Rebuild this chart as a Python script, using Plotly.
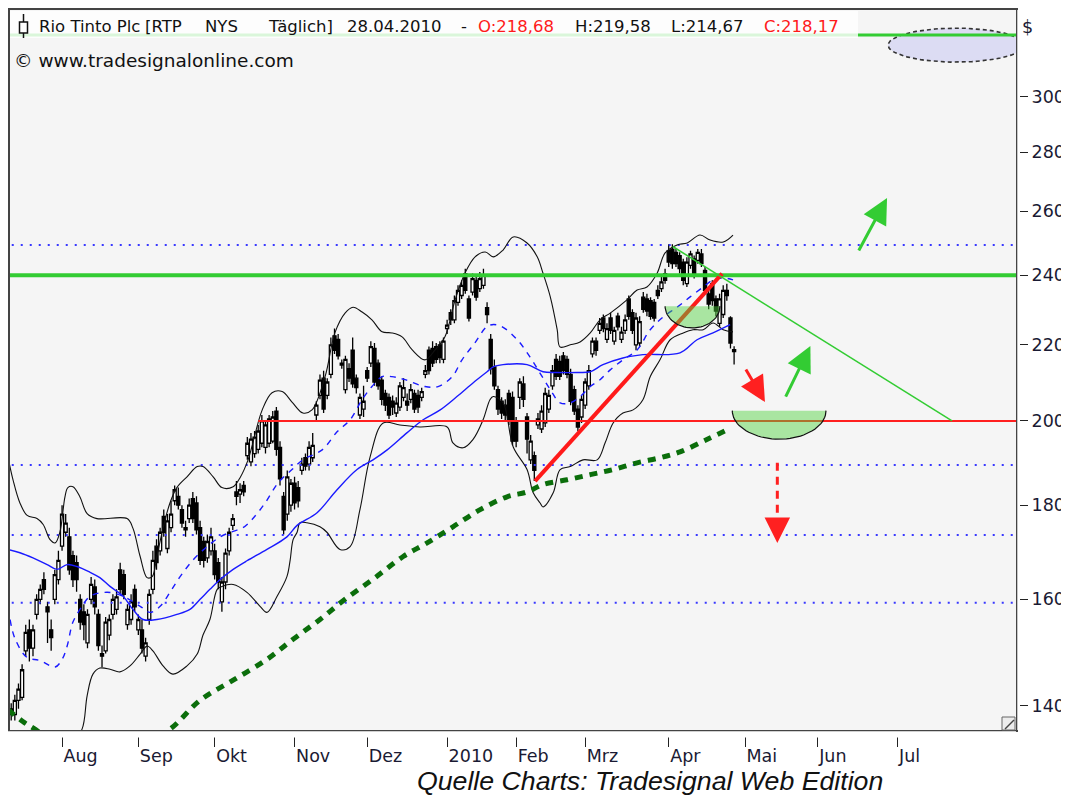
import math
import plotly.graph_objects as go

# ---------------- data (x = trading-day index, 0 = 14.07.2009 ... 199 = 28.04.2010) ----------------
opens = [139.5, 138.5, 141, 141.5, 150, 154, 150.5, 157, 160, 164,
         158.5, 154, 160, 164, 171, 174, 173, 169, 167.5, 160,
         157.5, 151.5, 160, 162.5, 157, 149.5, 150, 153, 157, 158,
         166, 165, 155, 156, 162, 154, 154, 149, 156, 162,
         171, 170, 177.5, 170.5, 175, 181, 182, 179, 175, 177,
         181.5, 180.5, 175, 172, 168.5, 170, 170, 167.5, 159.5, 163.5,
         170, 175.5, 183, 182.5, 184.5, 191.5, 190, 192, 193, 194.5,
         193.5, 194.5, 195, 202.5, 193.5, 182, 178, 180, 185, 184,
         188, 191, 189.5, 191, 201.5, 206.5, 211, 206.5, 212, 222.5,
         221.5, 215, 208, 213.5, 218.5, 211, 201.5, 203, 213, 215,
         219, 215, 210.5, 207, 206, 205, 202, 203.5, 206, 205,
         205.5, 207, 206.5, 206, 212, 218.5, 219, 219.5, 220, 216,
         224.5, 229, 227, 232, 234, 240.5, 233, 235, 238.5, 236,
         237, 230.5, 221.5, 214, 208, 205, 204, 207, 206, 200,
         206, 209.5, 201, 190.5, 191.5, 199, 198, 199.5, 203, 209,
         216, 215.5, 217, 216, 212, 208, 203, 201, 204, 209,
         217.5, 221, 224, 227.5, 221.5, 227.5, 221, 228, 221.5, 224,
         233, 229, 220, 220.5, 233.5, 233, 232.5, 232, 235.5, 236,
         240.5, 247.5, 248, 247, 246, 244, 237.5, 243, 245, 244.5,
         246.5, 241.5, 234.5, 237.5, 233, 226, 228.5, 235.5, 227.5, 218.68]
highs = [140.5, 142, 144, 147.5, 155, 156, 155, 161, 163, 165.5,
         159.5, 156, 166, 170, 180, 178, 175, 170, 169, 161,
         159, 158, 164.5, 164, 158, 151, 156.5, 157, 161, 162,
         167.5, 166, 159, 161, 163, 157, 156, 152.5, 162, 170,
         172.5, 175, 179, 178, 181, 184.5, 184, 180, 176.5, 181.5,
         183, 182, 176.5, 173, 173.5, 175, 171.5, 168.5, 164.5, 170.5,
         175, 178, 185.5, 185, 185.5, 196, 197, 197.5, 199, 201.5,
         200, 201.5, 202.5, 203.5, 195, 183, 188, 186, 186.5, 185.5,
         191, 192, 195, 197, 205, 212, 213, 211, 222, 224.5,
         223, 216, 217, 215, 222, 212, 207, 209, 214, 221,
         220.5, 216, 211.5, 208, 207, 206.5, 206, 210, 211, 207,
         209.5, 208, 208, 208.5, 214.5, 219.5, 221, 220.5, 221, 222,
         227, 230, 234, 237, 238.5, 242, 234, 240.5, 240, 241,
         242, 232, 223, 216, 209, 206, 205.5, 208, 207.5, 201,
         211, 211.5, 202, 196.5, 192.5, 202, 204, 208.5, 208, 214.5,
         217.5, 217, 218, 217, 213.5, 209, 204, 206.5, 211, 214.5,
         222, 222, 227.5, 228.5, 226, 229, 225, 229, 225, 228.5,
         234, 230, 229, 228, 235, 234.5, 233.5, 233, 237, 239.5,
         242, 249.5, 249.5, 248, 247, 245, 245.5, 247.5, 246, 248,
         248, 242.5, 236, 238.5, 234, 234.5, 237, 237.5, 228, 219.58]
lows = [137.5, 137.5, 139.5, 141, 149, 148, 149, 156, 159, 161,
        151.5, 150, 159, 163, 170, 173, 165, 162.5, 161.5, 154,
        152, 150.5, 159, 157, 150, 147, 149.5, 152, 156, 157,
        161, 160, 154, 155, 157.5, 153, 149.5, 148, 155, 161,
        166, 169, 173, 169.5, 174, 180, 179, 175, 173, 176,
        176, 173.5, 167, 166.5, 167.5, 169, 164, 162, 157.5, 162,
        169, 174.5, 180, 180.5, 182, 190.5, 189, 191, 192, 193.5,
        192, 193.5, 194.5, 191.5, 184.5, 173.5, 176.5, 178.5, 179, 179.5,
        187, 188, 188, 190, 200, 205.5, 202, 205.5, 211, 217.5,
        216, 213.5, 207, 210, 208.5, 207, 200.5, 201, 210, 214,
        209, 208, 204, 202.5, 200.5, 201.5, 201, 202.5, 205, 202.5,
        204.5, 202, 202, 205, 211, 212, 214, 215, 215, 215,
        223, 225.5, 226, 231, 233, 234.5, 226.5, 234, 232.5, 235,
        236, 226, 212, 208, 201.5, 200.5, 200, 199, 194, 193.5,
        203, 203.5, 192, 189.5, 185.5, 198, 197, 198.5, 202, 208,
        210.5, 210.5, 212, 211, 204, 201.5, 197.5, 199.5, 203, 208,
        216.5, 217, 223, 223.5, 220.5, 223, 220, 224, 220.5, 223,
        227, 223, 218.5, 219.5, 229, 228, 227, 226.5, 233, 235,
        237.5, 242.5, 242, 242.5, 240.5, 237, 236.5, 242, 239, 243.5,
        242.5, 234.5, 230, 231, 228, 225, 227.5, 232.5, 219, 214.67]
closes = [138.5, 141, 143, 146.5, 153.5, 150.5, 154, 160, 162, 162,
          157.5, 152.5, 165, 168, 178, 176, 166, 164, 164, 155.5,
          155, 157, 163, 158.5, 151, 149, 155.5, 156, 160, 160.5,
          162, 161, 158, 159.5, 158.5, 156, 150.5, 151.5, 161, 168,
          167.5, 174, 174, 176.5, 178, 183.5, 180, 176, 174.5, 180,
          177, 174.5, 168, 168, 172, 173, 165, 163.5, 163.5, 169.5,
          174, 177, 182, 183.5, 183, 194.5, 195.5, 196, 197.5, 200,
          199, 200.5, 201, 193, 186, 174.5, 186.5, 185, 180.5, 181,
          189.5, 189, 193.5, 194, 204, 210.5, 203, 210, 220, 218.5,
          217, 214.5, 216, 211, 209.5, 208.5, 206, 205, 211, 219.5,
          210, 209, 205.5, 204, 201.5, 203.5, 204.5, 209, 208.5, 204,
          208, 203, 203.5, 207.5, 213, 213, 215, 216, 216.5, 221,
          225.5, 227, 232.5, 235.5, 237, 235.5, 227.5, 239, 233.5, 239,
          240, 228.5, 213.5, 209, 203, 202, 201.5, 200, 195, 195,
          210, 205.5, 195.5, 195, 188, 200.5, 202.5, 207, 206.5, 213,
          211.5, 211.5, 213, 212, 205, 202.5, 198.5, 205.5, 210, 213,
          221, 218.5, 226, 224.5, 224.5, 224, 224, 225, 223.5, 227,
          228, 224, 227.5, 226.5, 230, 229.5, 228, 227.5, 234, 238,
          238.5, 244, 243.5, 243.5, 242, 238.5, 244, 246.5, 240, 247,
          243.5, 235.5, 231.5, 232.5, 229.5, 233, 235.5, 234, 220.5, 218.17]

bb_up_x = [-0.9, 0.5, 2.4, 4.4, 7.1, 8.8, 10.7, 12.1, 13.4, 14.8, 15.6, 17.0, 18.9, 20.9, 23.6, 31.9,
           33.5, 35.5, 37.4, 38.8, 40.1, 41.8, 43.7, 45.6, 48.4, 51.2, 52.8, 55.6, 58.0, 61.1, 63.0,
           65.2, 69.1, 71.8, 74.6, 77.3, 80.3, 82.8, 86.4, 89.1, 91.9, 94.1, 96.6, 99.3, 102.1, 104.8,
           107.6, 110.4, 113.9, 116.7, 119.4, 122.2, 124.9, 127.7, 130.5, 132.7, 135.4, 138.2, 142.0,
           144.8, 146.4, 148.4, 150.3, 151.1, 153.9, 156.6, 159.4, 162.1, 164.9, 169.5, 172.3, 175.0,
           177.8, 180.0, 183.3, 186.1, 189.6, 192.4, 196.0, 198.7]
bb_up_y = [191.2, 185.8, 180.5, 177.7, 177.0, 175.7, 172.4, 171.7, 174.0, 181.9, 184.0, 184.2, 181.9,
           178.1, 177.0, 177.0, 174.9, 168.8, 164.4, 164.6, 168.8, 174.9, 180.5, 184.0, 186.5, 188.9,
           188.9, 186.5, 184.0, 184.2, 186.3, 190.5, 202.8, 207.2, 207.5, 204.8, 202.0, 202.8, 211.4,
           223.3, 228.9, 230.6, 229.2, 227.0, 223.6, 223.3, 222.2, 218.6, 215.9, 218.6, 222.2, 232.7,
           240.6, 245.6, 247.1, 245.6, 247.7, 251.8, 249.9, 245.6, 240.6, 233.6, 224.2, 219.4, 220.0,
           220.8, 223.3, 227.0, 228.9, 232.7, 235.6, 236.5, 240.6, 246.8, 249.3, 249.9, 252.4, 250.8,
           250.2, 252.4]
bb_lo_x = [-0.9, 8.0, 16.2, 19.5, 20.9, 22.5, 24.4, 27.2, 29.9, 32.7, 35.5, 37.4, 39.0, 41.8, 44.5,
           48.4, 51.2, 52.8, 54.7, 56.7, 58.0, 61.1, 64.9, 68.5, 70.4, 73.2, 75.9, 76.8, 77.6, 78.7,
           79.5, 81.4, 85.0, 86.9, 90.5, 93.3, 96.0, 98.8, 102.4, 107.0, 112.5, 120.0, 121.6, 124.4,
           127.1, 129.9, 131.8, 132.7, 135.4, 138.2, 142.0, 143.7, 145.6, 146.4, 149.2, 151.1, 153.9,
           157.4, 161.3, 163.5, 165.7, 168.4, 171.2, 173.9, 175.9, 178.6, 181.4, 185.0, 187.7, 190.5,
           193.2, 196.0, 198.7]
bb_lo_y = [128.0, 127.5, 133.3, 136.0, 141.8, 145.7, 146.8, 146.6, 146.1, 147.2, 149.4, 150.9, 150.0,
           147.2, 145.7, 147.2, 149.4, 153.0, 156.0, 162.0, 162.6, 163.0, 161.4, 158.6, 157.4, 160.6,
           164.6, 168.1, 172.4, 174.0, 176.1, 176.1, 175.2, 174.0, 170.3, 170.9, 179.0, 191.2, 199.5,
           199.0, 198.5, 198.5, 194.6, 193.4, 195.4, 200.3, 205.4, 206.2, 204.6, 193.6, 188.2, 182.8,
           180.5, 179.6, 182.8, 188.2, 188.9, 190.5, 190.5, 194.6, 199.5, 202.0, 202.8, 205.4, 211.4,
           215.9, 221.4, 223.3, 224.2, 224.2, 226.1, 224.2, 223.6]
ma20_x = [-0.3, 1.0, 4.3, 7.9, 12.1, 14.0, 15.4, 17.0, 19.5, 21.7, 26.4, 30.8, 35.5, 38.2, 41.0, 43.7,
          46.5, 50.1, 53.9, 57.5, 61.1, 63.8, 66.3, 69.9, 73.5, 77.3, 80.3, 85.6, 89.7, 93.3, 96.6,
          99.3, 102.1, 104.8, 108.4, 113.9, 117.5, 121.4, 124.1, 127.7, 131.3, 134.6, 139.3, 142.8,
          145.6, 148.4, 151.1, 153.9, 156.6, 159.4, 162.1, 164.9, 168.4, 172.3, 175.9, 179.5, 183.3,
          186.9, 190.5, 193.2, 196.0, 198.7]
ma20_y = [156.0, 152.4, 148.8, 148.2, 147.0, 148.4, 150.9, 155.5, 158.6, 160.6, 161.4, 160.6, 158.6,
          157.4, 158.6, 161.4, 164.6, 168.1, 170.9, 173.0, 174.2, 175.0, 176.8, 180.5, 185.1, 188.2,
          190.5, 192.9, 197.3, 200.3, 205.4, 208.8, 211.4, 211.4, 210.6, 208.8, 208.8, 211.4, 215.9,
          220.6, 225.3, 225.3, 221.4, 216.7, 212.3, 208.0, 204.6, 204.6, 206.2, 208.8, 210.6, 213.2,
          215.9, 218.6, 224.2, 227.8, 230.6, 233.6, 236.5, 238.6, 239.2, 238.6]
ma50_x = [-0.9, 2.4, 6.0, 9.9, 12.6, 15.4, 18.1, 21.7, 24.4, 27.2, 30.8, 33.5, 36.3, 40.1, 45.6, 49.2,
          52.0, 54.7, 57.5, 61.1, 64.9, 70.4, 75.9, 78.7, 84.2, 89.7, 95.2, 99.6, 103.5, 109.0, 113.4,
          118.1, 122.7, 127.2, 131.0, 132.7, 135.4, 142.0, 146.4, 150.3, 155.8, 159.4, 162.9, 168.4,
          173.9, 184.1, 188.8, 193.2, 197.9]
ma50_y = [170.3, 169.6, 168.5, 167.1, 166.1, 167.1, 166.7, 165.5, 164.4, 162.6, 160.6, 158.0, 156.0,
          156.0, 157.0, 158.0, 160.0, 162.0, 164.0, 166.1, 167.9, 170.3, 173.0, 175.5, 178.3, 183.5,
          188.2, 190.5, 192.9, 197.1, 200.3, 202.8, 206.2, 209.8, 212.7, 214.0, 214.6, 214.6, 212.7,
          212.5, 212.5, 212.7, 214.6, 216.4, 217.3, 217.8, 221.4, 223.3, 225.6]
ma200_x = [-0.9, 3.2, 6.0, 13.4, 24.4, 35.5, 43.7, 52.0, 61.1, 70.4, 77.6, 85.0, 91.9, 100.2, 107.9,
           114.5, 121.6, 129.1, 136.5, 142.0, 146.4, 153.0, 159.4, 165.7, 172.3, 178.6, 184.1, 191.5,
           197.1]
ma200_y = [139.4, 137.3, 136.2, 133.5, 132.2, 133.3, 136.0, 141.0, 144.6, 148.4, 152.2, 156.0, 160.0,
           164.4, 168.8, 171.7, 175.2, 179.0, 181.9, 183.0, 184.7, 185.8, 187.0, 188.2, 189.8, 191.0,
           192.4, 195.4, 197.8]

# horizontal levels / drawn analysis
blue_levels = [249.3, 189.3, 173.4, 159.3]
green_level = 240.0
red_level = 200.0
red_level_start = 68.0
top_green_level = 324.2
red_trend_x = [144.2, 195.7]
red_trend_y = [185.5, 240.5]
green_trend_x = [182.1, 259.0]
green_trend_y = [248.8, 200.0]
# arrows: tail x, tail y, tip x, tip y, colour
arrow_tail_x = [202.0, 213.0, 233.1]
arrow_tail_y = [213.7, 205.8, 247.1]
arrow_tip_x = [207.5, 220.0, 241.1]
arrow_tip_y = [204.8, 219.7, 264.4]
arrow_colors = ['#ff2020', '#33cc33', '#33cc33']
dash_arrow_x = 210.9
dash_arrow_y = [189.8, 171.7]
# bowls: left x, right x, top price, bottom price
bowl_x0 = [180.0, 198.5]
bowl_x1 = [195.1, 224.3]
bowl_top = [230.9, 202.6]
bowl_bot = [224.7, 195.5]
# marker ellipse (top right)
ell_cx, ell_rx, ell_cy, ell_ry_px = 260.1, 18.7, 320.1, 17

month_pos = [14, 35, 56, 78, 98, 120, 139, 158, 181, 202, 222, 244]
month_labels = ['Aug', 'Sep', 'Okt', 'Nov', 'Dez', '2010', 'Feb', 'Mrz', 'Apr', 'Mai', 'Jun', 'Jul']
y_ticks = [140, 160, 180, 200, 220, 240, 260, 280, 300]

# ---------------- layout geometry (page body has an 8px margin) ----------------
W, H = 1061, 788
ML, MR, MT, MB = 2, 53, 2, 66
PW, PH = W - ML - MR, H - MT - MB      # plot area on page: x 10..1016, y 10..730
XR = [-0.33, 276.6]
YR = [2.13308, 2.52438]
DEC_PER_PX = (YR[1] - YR[0]) / PH


def pxx(x):   # page pixel -> paper
    return (x - 10) / PW


def pxy(y):
    return (730 - y) / PH


FONT = 'DejaVu Sans'
fig = go.Figure()


def line(x, y, color, width, dash=None, shape='linear'):
    fig.add_trace(go.Scatter(x=x, y=y, mode='lines', hoverinfo='skip', showlegend=False,
                             line=dict(color=color, width=width, dash=dash, shape=shape)))


LX = [XR[0] - 2, XR[1] + 2]
for lv in blue_levels:
    line(LX, [lv, lv], '#3838ff', 2, '2px,7px')

# ellipse (top right)
ts = [k * 2 * math.pi / 80 for k in range(81)]
ell_ry = ell_ry_px * DEC_PER_PX
fig.add_trace(go.Scatter(
    x=[ell_cx + ell_rx * math.cos(t) for t in ts],
    y=[10 ** (math.log10(ell_cy) + ell_ry * math.sin(t)) for t in ts],
    mode='lines', fill='toself', fillcolor='#dcdcf3',
    line=dict(color='#333333', width=1.6, dash='4px,3px'), hoverinfo='skip', showlegend=False))
line(LX, [top_green_level, top_green_level], '#33cc33', 3)

# candles
fig.add_trace(go.Candlestick(
    x=list(range(len(opens))), open=opens, high=highs, low=lows, close=closes,
    increasing=dict(line=dict(color='black', width=1.3), fillcolor='white'),
    decreasing=dict(line=dict(color='black', width=1.3), fillcolor='black'),
    whiskerwidth=0, hoverinfo='skip', showlegend=False))

# indicators
line(bb_up_x, bb_up_y, '#111111', 1.1, shape='spline')
line(bb_lo_x, bb_lo_y, '#111111', 1.1, shape='spline')
line(ma20_x, ma20_y, '#1a1aff', 1.4, '6px,6px', shape='spline')
line(ma50_x, ma50_y, '#1a1aff', 1.4, shape='spline')
line(ma200_x, ma200_y, '#0b6e0b', 5, '8px,7px', shape='spline')

# analysis drawings
line(LX, [green_level, green_level], '#33cc33', 4)
line([red_level_start, LX[1]], [red_level, red_level], '#ff2020', 2)
line(red_trend_x, red_trend_y, '#ff1a1a', 4)
line(green_trend_x, green_trend_y, '#33cc33', 1.5)

for x0, x1, tp, bt in zip(bowl_x0, bowl_x1, bowl_top, bowl_bot):
    cx, rx = (x0 + x1) / 2, (x1 - x0) / 2
    lt, lb = math.log10(tp), math.log10(bt)
    tt = [k * math.pi / 40 for k in range(41)]
    ax_ = [cx + rx * math.cos(t) for t in tt]
    ay_ = [10 ** (lt - (lt - lb) * math.sin(t)) for t in tt]
    fig.add_trace(go.Scatter(x=ax_, y=ay_, mode='lines', fill='toself',
                             fillcolor='rgba(78,209,61,0.46)', line=dict(width=0),
                             hoverinfo='skip', showlegend=False))
    line(ax_, ay_, '#111111', 1.2)

line([dash_arrow_x, dash_arrow_x], [dash_arrow_y[0], dash_arrow_y[1] * 1.02], '#ff2020', 3, '8px,6px')

annotations = []
for tx, ty, hx, hy, c in zip(arrow_tail_x, arrow_tail_y, arrow_tip_x, arrow_tip_y, arrow_colors):
    annotations.append(dict(x=hx, y=math.log10(hy), ax=tx, ay=math.log10(ty), xref='x', yref='y',
                            axref='x', ayref='y', text='', showarrow=True, arrowhead=2,
                            arrowsize=1.7, arrowwidth=3, arrowcolor=c))
annotations.append(dict(x=dash_arrow_x, y=math.log10(dash_arrow_y[1]), ax=dash_arrow_x,
                        ay=math.log10(dash_arrow_y[1] * 1.03), xref='x', yref='y', axref='x',
                        ayref='y', text='', showarrow=True, arrowhead=2, arrowsize=1.7,
                        arrowwidth=3, arrowcolor='#ff2020'))

# header texts
hdr = [('Rio Tinto Plc', 36.5, '#111111'), ('[RTP', 143, '#111111'), ('NYS', 203, '#111111'),
       ('Täglich]', 266, '#111111'), ('28.04.2010', 344.5, '#111111'), ('-', 459, '#111111'),
       ('O:218,68', 475.5, '#ff1a1a'), ('H:219,58', 572.5, '#111111'),
       ('L:214,67', 668.5, '#111111'), ('C:218,17', 761.5, '#ff1a1a')]
for txt, xp, col in hdr:
    annotations.append(dict(x=pxx(xp), y=pxy(26), xref='paper', yref='paper', text=txt,
                            showarrow=False, xanchor='left', yanchor='middle',
                            font=dict(family=FONT, size=16.5, color=col)))
annotations.append(dict(x=pxx(11.5), y=pxy(61), xref='paper', yref='paper',
                        text='© www.tradesignalonline.com', showarrow=False, xanchor='left',
                        yanchor='middle', font=dict(family=FONT, size=18.5, color='#111111')))
annotations.append(dict(x=pxx(1020), y=pxy(27), xref='paper', yref='paper', text='$',
                        showarrow=False, xanchor='left', yanchor='middle',
                        font=dict(family=FONT, size=17.5, color='#1a1a33')))
annotations.append(dict(x=pxx(649.5), y=pxy(781), xref='paper', yref='paper',
                        text='<i>Quelle Charts: Tradesignal Web Edition</i>', showarrow=False,
                        xanchor='center', yanchor='middle',
                        font=dict(family='Liberation Sans', size=26.7, color='#111111')))

shapes = [
    # gap between frame and tick marks
    dict(type='rect', xref='paper', yref='paper', x0=-0.01, x1=1.0, y0=pxy(737.5), y1=pxy(731.3),
         fillcolor='white', line=dict(width=0), layer='above'),
    dict(type='rect', xref='paper', yref='paper', x0=pxx(1017.3), x1=pxx(1020), y0=0, y1=1,
         fillcolor='white', line=dict(width=0), layer='above'),
    # header box
    dict(type='rect', xref='paper', yref='paper', x0=pxx(10), x1=pxx(858), y0=pxy(38), y1=pxy(11),
         fillcolor='rgba(255,255,255,0.82)', line=dict(width=0), layer='above'),
    # candle icon
    dict(type='line', xref='paper', yref='paper', x0=pxx(23.5), x1=pxx(23.5), y0=pxy(38), y1=pxy(14),
         line=dict(color='#111111', width=1.5), layer='above'),
    dict(type='rect', xref='paper', yref='paper', x0=pxx(19.5), x1=pxx(27.5), y0=pxy(33), y1=pxy(22),
         fillcolor='white', line=dict(color='#111111', width=1.5), layer='above'),
    # resize glyph
    dict(type='rect', xref='paper', yref='paper', x0=pxx(1002), x1=pxx(1015), y0=pxy(730), y1=pxy(717),
         fillcolor='#ececec', line=dict(color='#666666', width=1), layer='above'),
    dict(type='line', xref='paper', yref='paper', x0=pxx(1005), x1=pxx(1014), y0=pxy(729), y1=pxy(720),
         line=dict(color='#444444', width=1.5), layer='above'),
]

tickfont = dict(family=FONT, size=17.5, color='#1a1a33')
fig.update_layout(
    width=W, height=H, margin=dict(l=ML, r=MR, t=MT, b=MB, pad=0), autosize=False,
    paper_bgcolor='white', plot_bgcolor='#f5f5f5', hovermode=False, showlegend=False,
    boxgap=0.15, boxgroupgap=0, annotations=annotations, shapes=shapes,
    xaxis=dict(range=XR, type='linear', rangeslider=dict(visible=False), showgrid=False,
               zeroline=False, tickmode='array', tickvals=month_pos, ticktext=month_labels,
               ticks='outside', ticklen=15, tickwidth=1, tickcolor='#222222',
               ticklabelposition='outside right', ticklabelstandoff=9, tickfont=tickfont,
               showline=True, linecolor='#444444', linewidth=2, mirror=True, fixedrange=True,
               automargin=False),
    yaxis=dict(type='log', range=YR, side='right', showgrid=False, zeroline=False,
               tickmode='array', tickvals=y_ticks, ticktext=[str(v) for v in y_ticks],
               ticks='outside', ticklen=10, tickwidth=1, tickcolor='#222222', tickfont=tickfont,
               showline=True, linecolor='#444444', linewidth=2, mirror=True, fixedrange=True,
               automargin=False),
)

fig.write_html('out.html')
